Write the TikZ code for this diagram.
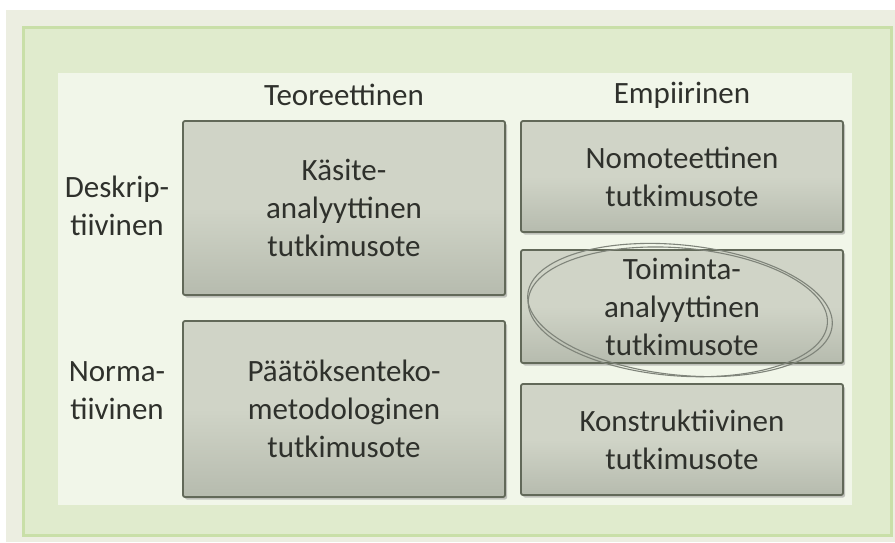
\documentclass[tikz,border=0pt]{standalone}
\usepackage{fontspec}
\setmainfont{Carlito}
\usetikzlibrary{shadows}
\definecolor{pagebg}{HTML}{ECEEE1}
\definecolor{framefill}{HTML}{E0EBCD}
\definecolor{frameline}{HTML}{C9DFA8}
\definecolor{panelfill}{HTML}{F1F6E9}
\definecolor{boxtop}{HTML}{D0D4C7}
\definecolor{boxbot}{HTML}{B6BBAE}
\definecolor{boxedge}{HTML}{626959}
\definecolor{inktext}{HTML}{2F312C}
\definecolor{ringline}{HTML}{7F847A}
\tikzset{
  cellbox/.style={draw=boxedge, line width=1.8pt, rounded corners=2pt,
    top color=boxtop, bottom color=boxbot, middle color=boxtop,
    drop shadow={opacity=0.45, shadow xshift=2pt, shadow yshift=-2.5pt},
    text=inktext, align=center, inner sep=0pt},
  axislabel/.style={text=inktext, align=center, inner sep=0pt},
  ring/.style={draw=ringline, line width=1.1pt}
}
\begin{document}
\begin{tikzpicture}[x=1pt,y=-1pt, font=\fontsize{31}{38}\selectfont]
  \useasboundingbox (0,0) rectangle (895,542);
  % page and framing panels
  \fill[white] (0,0) rectangle (895,542);
  \fill[pagebg] (6,10) rectangle (895,542);
  \draw[fill=framefill, draw=frameline, line width=3pt] (23,27) rectangle (891,535);
  \fill[panelfill] (58,73) rectangle (852,505);

  % column headings
  \node[axislabel] (teo) at (344,95) {Teoreettinen};
  \node[axislabel] (emp) at (682,95) {Empiirinen};

  % row headings
  \node[axislabel] (desk) at (117,206) {Deskrip-\\tiivinen};
  \node[axislabel] (norm) at (117,391) {Norma-\\tiivinen};

  % cells
  \node[cellbox, minimum width=322pt, minimum height=174pt] (kasite) at (344,208)
    {Käsite-\\analyyttinen\\tutkimusote};
  \node[cellbox, minimum width=322pt, minimum height=176pt] (paatos) at (344,409)
    {Päätöksenteko-\\metodologinen\\tutkimusote};
  \node[cellbox, minimum width=322pt, minimum height=111pt] (nomo) at (682,176.5)
    {Nomoteettinen\\tutkimusote};
  \node[cellbox, minimum width=322pt, minimum height=113pt] (toim) at (682,306.5)
    {Toiminta-\\analyyttinen\\tutkimusote};
  \node[cellbox, minimum width=322pt, minimum height=111pt] (kons) at (682,439.5)
    {Konstruktiivinen\\tutkimusote};

  % hand-drawn double ring around the action-analytic cell
  \coordinate (ringc) at (680,310);
  \draw[ring, rotate around={-6:(ringc)}] (ringc) ellipse [x radius=153pt, y radius=65pt];
  \draw[ring, rotate around={-4.5:(ringc)}] ([xshift=-2pt,yshift=-2pt]ringc) ellipse [x radius=150pt, y radius=64pt];
\end{tikzpicture}
\end{document}
